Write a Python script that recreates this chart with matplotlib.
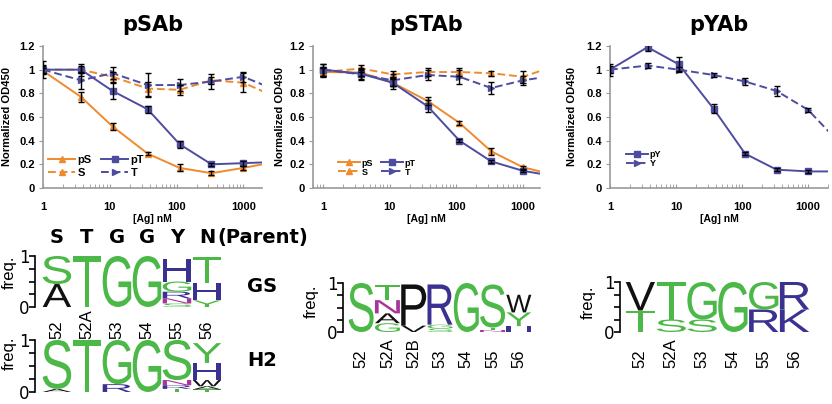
import numpy as np
import matplotlib.pyplot as plt
from matplotlib.textpath import TextPath
from matplotlib.patches import PathPatch
from matplotlib.font_manager import FontProperties
from matplotlib.transforms import Affine2D
from matplotlib.ticker import NullFormatter

W, H = 832, 404

# binding curves (normalized OD450), antigen dilution series in nM
conc = [1, 3.7, 11, 37, 111, 333, 1000, 3000]

psab_pS = [0.99, 0.77, 0.52, 0.29, 0.17, 0.125, 0.17, 0.22]
psab_pS_err = [0.02, 0.04, 0.03, 0.015, 0.03, 0.015, 0.02, 0]
psab_S = [1.0, 1.0, 0.94, 0.84, 0.83, 0.91, 0.89, 0.77]
psab_S_err = [0.04, 0.05, 0.04, 0.06, 0.04, 0.03, 0.08, 0]
psab_pT = [1.0, 1.0, 0.82, 0.665, 0.37, 0.2, 0.21, 0.22]
psab_pT_err = [0.03, 0.03, 0.07, 0.03, 0.03, 0.01, 0.02, 0]
psab_T = [1.0, 0.91, 0.97, 0.87, 0.87, 0.9, 0.94, 0.83]
psab_T_err = [0.07, 0.07, 0.05, 0.1, 0.05, 0.06, 0.04, 0]

pstab_pS = [0.98, 0.975, 0.89, 0.735, 0.55, 0.31, 0.175, 0.11]
pstab_pS_err = [0.03, 0.03, 0.03, 0.03, 0.015, 0.03, 0.015, 0]
pstab_S = [0.98, 1.01, 0.96, 0.98, 0.98, 0.97, 0.94, 1.03]
pstab_S_err = [0.04, 0.03, 0.03, 0.03, 0.03, 0.02, 0.05, 0]
pstab_pT = [1.0, 0.965, 0.89, 0.69, 0.40, 0.225, 0.145, 0.10]
pstab_pT_err = [0.05, 0.05, 0.05, 0.05, 0.01, 0.015, 0.01, 0]
pstab_T = [1.0, 0.96, 0.91, 0.955, 0.94, 0.845, 0.91, 0.95]
pstab_T_err = [0.05, 0.04, 0.05, 0.04, 0.06, 0.05, 0.04, 0]

pyab_pY = [1.0, 1.19, 1.045, 0.67, 0.29, 0.155, 0.14, 0.14]
pyab_pY_err = [0.05, 0.03, 0.06, 0.04, 0.015, 0.01, 0.01, 0]
pyab_Y = [1.0, 1.035, 1.0, 0.955, 0.9, 0.82, 0.66, 0.38]
pyab_Y_err = [0.03, 0.02, 0.02, 0.02, 0.03, 0.04, 0.015, 0]

# sequence logos: per position, (residue, frequency) from bottom to top
parent_seq = ['S', 'T', 'G', 'G', 'Y', 'N']
pos_six = ['52', '52A', '53', '54', '55', '56']
pos_seven = ['52', '52A', '52B', '53', '54', '55', '56']

gs_logo = [
    [('A', 0.45), ('S', 0.55)],
    [('T', 1.0)],
    [('G', 1.0)],
    [('G', 1.0)],
    [('S', 0.07), ('N', 0.1), ('R', 0.13), ('G', 0.2), ('H', 0.45)],
    [('Y', 0.13), ('H', 0.35), ('T', 0.5)],
]
h2_logo = [
    [('A', 0.06), ('S', 0.94)],
    [('T', 1.0)],
    [('R', 0.15), ('G', 0.85)],
    [('G', 1.0)],
    [('T', 0.06), ('R', 0.07), ('N', 0.1), ('S', 0.77)],
    [('T', 0.05), ('A', 0.06), ('W', 0.12), ('H', 0.33), ('Y', 0.38)],
]
mid_logo = [
    [('S', 1.0)],
    [('G', 0.18), ('A', 0.2), ('N', 0.27), ('T', 0.3)],
    [('V', 0.13), ('P', 0.84)],
    [('S', 0.07), ('G', 0.08), ('R', 0.82)],
    [('G', 1.0)],
    [('N', 0.04), ('T', 0.05), ('S', 0.88)],
    [('H', 0.12), ('Y', 0.28), ('W', 0.36)],
]
right_logo = [
    [('T', 0.43), ('V', 0.57)],
    [('S', 0.25), ('T', 0.75)],
    [('S', 0.25), ('G', 0.75)],
    [('G', 1.0)],
    [('R', 0.45), ('G', 0.55)],
    [('K', 0.45), ('R', 0.55)],
]

ORANGE = '#F08A2E'
BLUE = '#4E4C9E'
GRAY = '#9a9a9a'
chem = {}
for aa in 'GSTYC':
    chem[aa] = '#4CB848'
for aa in 'NQ':
    chem[aa] = '#A8339A'
for aa in 'KRH':
    chem[aa] = '#3A3190'
for aa in 'DE':
    chem[aa] = '#D62728'
for aa in 'AVLIPWFM':
    chem[aa] = '#111111'

arial_b = FontProperties(family='Liberation Sans', weight='bold')
logo_font = FontProperties(family='Liberation Sans', weight='normal')


def rect(l, t, r, b):
    return [l / W, 1 - b / H, (r - l) / W, (b - t) / H]


fig = plt.figure(figsize=(W / 100, H / 100), dpi=100)


def curve_panel(box, xlim, title, series, ylab_x, leg):
    ax = fig.add_axes(rect(*box))
    handles = []
    for vals, err, color, marker, ls, lab in series:
        line, = ax.plot(conc, vals, color=color, marker=marker, ms=5,
                        mec=color, lw=1.4, ls=ls, label=lab, zorder=3)
        if ls == '--':
            line.set_dashes((4, 2))
        ax.errorbar(conc, vals, yerr=err, fmt='none', ecolor='black',
                    elinewidth=1, capsize=2, capthick=1, zorder=4)
        handles.append(line)
    ax.set_xscale('log')
    ax.set_xlim(*xlim)
    ax.set_ylim(0, 1.2)
    ax.set_xticks([1, 10, 100, 1000])
    ax.set_xticklabels(['1', '10', '100', '1000'])
    ax.xaxis.set_minor_formatter(NullFormatter())
    ax.set_yticks([0, 0.2, 0.4, 0.6, 0.8, 1.0, 1.2])
    ax.set_yticklabels(['0', '0.2', '0.4', '0.6', '0.8', '1', '1.2'])
    for lbl in ax.get_xticklabels() + ax.get_yticklabels():
        lbl.set_fontproperties(arial_b)
        lbl.set_fontsize(8)
    ax.tick_params(axis='x', which='both', direction='in', length=3,
                   color=GRAY, pad=10)
    ax.tick_params(axis='y', direction='out', length=3, color=GRAY, pad=3)
    for s in ['top', 'right']:
        ax.spines[s].set_visible(False)
    for s in ['left', 'bottom']:
        ax.spines[s].set_color(GRAY)
        ax.spines[s].set_linewidth(1.2)
    ax.set_title(title, fontsize=15, fontweight='bold', pad=11)
    ax.set_ylabel('Normalized OD450', fontproperties=arial_b, fontsize=8)
    ax.yaxis.set_label_coords(ylab_x, 0.5)
    ax.set_xlabel('[Ag] nM', fontproperties=arial_b, fontsize=7.5)
    ax.xaxis.set_label_coords(0.5, -0.18)
    ncol, fs, anchor, lspace = leg
    ax.legend(handles, [h.get_label() for h in handles],
              ncol=ncol, loc='lower left', bbox_to_anchor=anchor,
              frameon=False, handlelength=2.4, handletextpad=0.2,
              columnspacing=0.9, labelspacing=lspace,
              borderaxespad=0, borderpad=0,
              prop=FontProperties(family='Liberation Sans',
                                  weight='bold', size=fs))
    return ax


curve_panel((43, 46, 262, 188), (1, 1900), 'pSAb', [
    (psab_pS, psab_pS_err, ORANGE, '^', '-', 'pS'),
    (psab_S, psab_S_err, ORANGE, '^', '--', 'S'),
    (psab_pT, psab_pT_err, BLUE, 's', '-', 'pT'),
    (psab_T, psab_T_err, BLUE, '>', '--', 'T'),
], -0.14, (2, 8, (0.025, 0.07), 0.3))

curve_panel((313, 46, 540, 188), (0.7, 1800), 'pSTAb', [
    (pstab_pS, pstab_pS_err, ORANGE, '^', '-', 'pS'),
    (pstab_S, pstab_S_err, ORANGE, '^', '--', 'S'),
    (pstab_pT, pstab_pT_err, BLUE, 's', '-', 'pT'),
    (pstab_T, pstab_T_err, BLUE, '>', '--', 'T'),
], -0.125, (2, 6.5, (0.11, 0.08), 0.0))

curve_panel((610, 46, 828, 188), (1, 2000), 'pYAb', [
    (pyab_pY, pyab_pY_err, BLUE, 's', '-', 'pY'),
    (pyab_Y, pyab_Y_err, BLUE, '>', '--', 'Y'),
], -0.15, (1, 6.5, (0.075, 0.14), 0.0))


def logo_panel(box, xlim, cols, labels, label_y, freq_xy):
    ax = fig.add_axes(rect(*box))
    ax.set_xlim(*xlim)
    ax.set_ylim(0, 1)
    for i, col in enumerate(cols):
        base = 0.0
        for aa, h in col:
            tp = TextPath((0, 0), aa, size=1, prop=logo_font)
            bb = tp.get_extents()
            w = 0.95
            tr = (Affine2D().translate(-bb.x0, -bb.y0)
                  .scale(w / bb.width, h / bb.height)
                  .translate(i - w / 2, base))
            ax.add_patch(PathPatch(tr.transform_path(tp), fc=chem[aa],
                                   ec='none', lw=0))
            base += h
    for s in ['top', 'right', 'bottom']:
        ax.spines[s].set_visible(False)
    ax.spines['left'].set_linewidth(1.2)
    ax.set_xticks([])
    ax.set_yticks([0, 0.25, 0.5, 0.75, 1])
    ax.set_yticklabels(['0', '', '', '', '1'])
    ax.tick_params(axis='y', direction='out', length=4, width=1.2,
                   labelsize=12, pad=0)
    ax.set_ylabel('freq.', fontsize=12, family='Liberation Sans')
    ax.yaxis.set_label_coords(*freq_xy)
    if labels:
        for i, lab in enumerate(labels):
            ax.text(i, label_y, lab, rotation=90, ha='center', va='bottom',
                    fontsize=12, family='Liberation Sans', clip_on=False)
    return ax


ax_gs = logo_panel((35, 256, 222, 307), (-0.73, 5.5), gs_logo, pos_six,
                   -0.63, (-0.1, 0.68))
logo_panel((35, 340, 222, 392), (-0.73, 5.5), h2_logo, None, 0,
           (-0.1, 0.74))
logo_panel((343, 283, 532, 332), (-0.69, 6.5), mid_logo, pos_seven,
           -0.73, (-0.13, 0.62))
logo_panel((620, 282, 810, 332), (-0.66, 5.5), right_logo, pos_six,
           -0.72, (-0.13, 0.6))

for i, aa in enumerate(parent_seq):
    ax_gs.text(i, 1.37, aa, ha='center', va='center', fontsize=14,
               fontweight='bold', clip_on=False)
ax_gs.text(5.35, 1.37, '(Parent)', ha='left', va='center', fontsize=14,
           fontweight='bold', clip_on=False)

fig.text(262 / W, 1 - 287 / H, 'GS', ha='center', va='center',
         fontsize=14, fontweight='bold')
fig.text(262 / W, 1 - 360 / H, 'H2', ha='center', va='center',
         fontsize=14, fontweight='bold')

fig.savefig('out.png', dpi=100)
